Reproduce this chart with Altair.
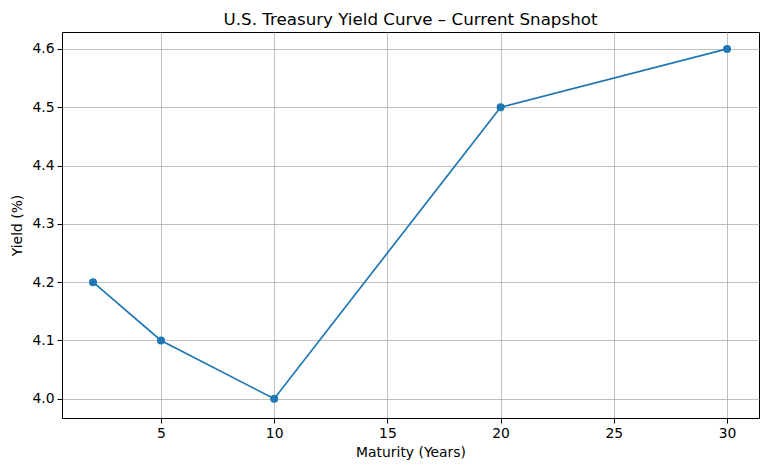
import altair as alt
import pandas as pd

maturity = [2, 5, 10, 20, 30]
yield_pct = [4.2, 4.1, 4.0, 4.5, 4.6]
x_ticks = [5, 10, 15, 20, 25, 30]
y_ticks = [4.0, 4.1, 4.2, 4.3, 4.4, 4.5, 4.6]

df = pd.DataFrame({"Maturity": maturity, "Yield": yield_pct})

font = "DejaVu Sans"
fs = 13.9
x = alt.X("Maturity:Q", title="Maturity (Years)",
          scale=alt.Scale(domain=[0.63, 31.41], nice=False, zero=False),
          axis=alt.Axis(values=x_ticks, format="d", grid=True, gridColor="#b0b0b0",
                        gridWidth=0.8, domain=False, tickColor="black", tickSize=5,
                        labelFontSize=fs, titleFontSize=fs, labelColor="black",
                        titleColor="black", titleFontWeight="normal", labelFont=font,
                        titleFont=font, labelPadding=3, titlePadding=6))
y = alt.Y("Yield:Q", title="Yield (%)",
          scale=alt.Scale(domain=[3.967, 4.629], nice=False, zero=False),
          axis=alt.Axis(values=y_ticks, format=".1f", grid=True, gridColor="#b0b0b0",
                        gridWidth=0.8, domain=False, tickColor="black", tickSize=5,
                        labelFontSize=fs, titleFontSize=fs, labelColor="black",
                        titleColor="black", titleFontWeight="normal", labelFont=font,
                        titleFont=font, labelPadding=3, titlePadding=7))

base = alt.Chart(df).encode(x=x, y=y)
line = base.mark_line(color="#1f77b4", strokeWidth=1.7)
pts = base.mark_point(filled=True, color="#1f77b4", size=64, opacity=1)

chart = (line + pts).properties(
    width=697, height=386,
    title=alt.TitleParams("U.S. Treasury Yield Curve – Current Snapshot",
                          font=font, fontSize=16.7, fontWeight="normal",
                          color="black", offset=3),
    autosize=alt.AutoSizeParams(type="none"),
    padding={"left": 54, "top": 24, "right": 1, "bottom": 44},
).configure_view(stroke="black", strokeWidth=1)

chart.save("out.html", embed_options={"renderer": "svg", "actions": False})
